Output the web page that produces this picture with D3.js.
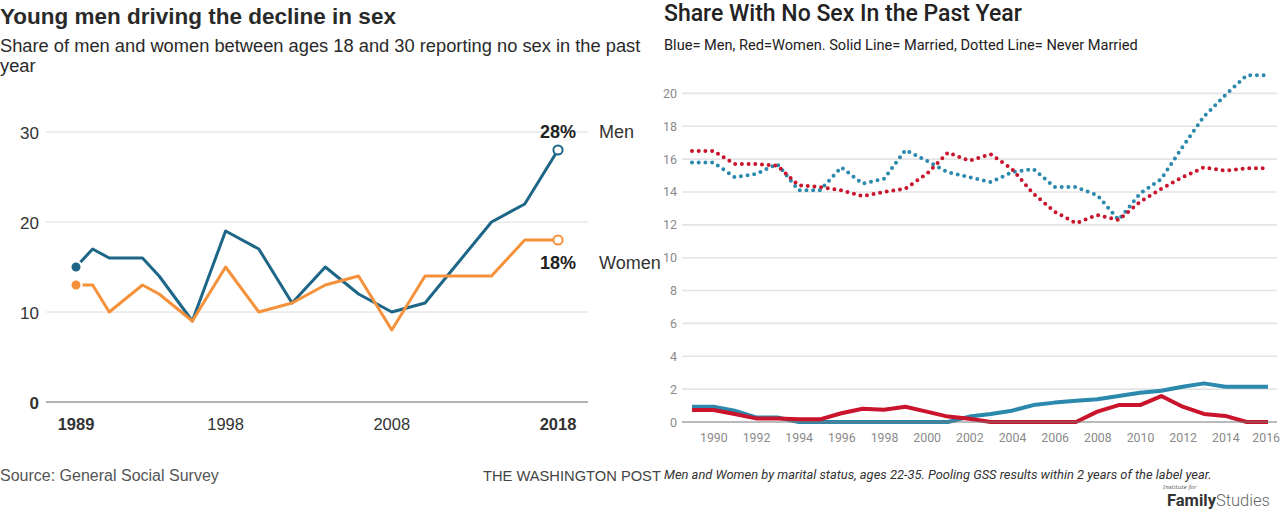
<!DOCTYPE html>
<html>
<head>
<meta charset="utf-8">
<script src="https://cdn.jsdelivr.net/npm/d3@7"></script>
<style>
  html, body { margin: 0; padding: 0; background: #fff; }
  svg { display: block; }
  .wp { font-family: 'Liberation Sans', Arial, sans-serif; }
  .ifs { font-family: Roboto, sans-serif; }
</style>
</head>
<body>
<div id="chart"></div>
<script>
// left chart: Washington Post, ages 18-30
const wpYears = [1989, 1990, 1991, 1993, 1994, 1996, 1998, 2000, 2002, 2004, 2006, 2008, 2010, 2012, 2014, 2016, 2018]
const wpMen = [15, 17, 16, 16, 14, 9, 19, 17, 11, 15, 12, 10, 11, 15.5, 20, 22, 28]
const wpWomen = [13, 13, 10, 13, 12, 9, 15, 10, 11, 13, 14, 8, 14, 14, 14, 18, 18]
const wpYTicks = [0, 10, 20, 30]
const wpXTicks = [1989, 1998, 2008, 2018]

// right chart: Institute for Family Studies, ages 22-35
const ifsYears = d3.range(1989, 2017)
const menNever = [15.8, 15.8, 14.9, 15.1, 15.7, 14.1, 14.1, 15.5, 14.5, 14.8, 16.55, 15.9, 15.2, 14.9,
  14.6, 15.2, 15.4, 14.3, 14.3, 13.8, 12.3, 13.9, 14.8, 16.75, 18.6, 19.9, 21.1, 21.1]
const womenNever = [16.5, 16.5, 15.7, 15.7, 15.6, 14.4, 14.3, 14.1, 13.75, 14.0, 14.2, 15.1, 16.4, 15.9,
  16.3, 15.4, 13.9, 12.8, 12.1, 12.6, 12.3, 13.4, 14.2, 14.9, 15.5, 15.3, 15.45, 15.45]
const menMarried = [0.93, 0.93, 0.69, 0.28, 0.28, 0, 0, 0, 0, 0, 0, 0, 0, 0.33,
  0.49, 0.69, 1.03, 1.18, 1.3, 1.38, 1.58, 1.78, 1.9, 2.15, 2.35, 2.15, 2.15, 2.15]
const womenMarried = [0.73, 0.73, 0.49, 0.22, 0.22, 0.16, 0.16, 0.53, 0.81, 0.75, 0.93, 0.63, 0.33, 0.2,
  0, 0, 0, 0, 0, 0.63, 1.03, 1.03, 1.58, 0.93, 0.49, 0.37, 0, 0]
const ifsYTicks = d3.range(0, 21, 2)
const ifsXTicks = d3.range(1990, 2017, 2)

const width = 1280
const height = 511
const menColor = '#1d6688'
const womenColor = '#f5913a'
const blue = '#2b89ae'
const red = '#c9142c'

const svg = d3.select('#chart').append('svg')
  .attr('width', width)
  .attr('height', height)

// ---------- left ----------
const left = svg.append('g').attr('class', 'wp')

left.append('text')
  .attr('x', 0).attr('y', 24)
  .attr('font-size', 22.5).attr('font-weight', 'bold').attr('fill', '#2a2a2a')
  .text('Young men driving the decline in sex')
left.append('text')
  .attr('x', 0).attr('y', 52)
  .attr('font-size', 18.3).attr('fill', '#2a2a2a')
  .text('Share of men and women between ages 18 and 30 reporting no sex in the past')
left.append('text')
  .attr('x', 0).attr('y', 72)
  .attr('font-size', 18.3).attr('fill', '#2a2a2a')
  .text('year')

const x1 = d3.scaleLinear().domain([1989, 2018]).range([76, 558])
const y1 = d3.scaleLinear().domain([0, 30]).range([402, 132])

left.selectAll('line.grid')
  .data(wpYTicks)
  .join('line')
  .attr('class', 'grid')
  .attr('x1', 46).attr('x2', 588)
  .attr('y1', d => y1(d)).attr('y2', d => y1(d))
  .attr('stroke', d => d === 0 ? '#b3b3b3' : '#dcdcdc')
  .attr('stroke-width', d => d === 0 ? 2 : 1)

left.selectAll('text.ytick')
  .data(wpYTicks)
  .join('text')
  .attr('class', 'ytick')
  .attr('x', 39).attr('y', d => y1(d) + 7)
  .attr('text-anchor', 'end')
  .attr('font-size', 17).attr('fill', '#333')
  .attr('font-weight', d => d === 0 ? 'bold' : 'normal')
  .text(d => d)

left.selectAll('text.xtick')
  .data(wpXTicks)
  .join('text')
  .attr('class', 'xtick')
  .attr('x', d => x1(d)).attr('y', 430)
  .attr('text-anchor', 'middle')
  .attr('font-size', 16.5).attr('fill', '#333')
  .attr('font-weight', (d, i) => (i === 0 || i === wpXTicks.length - 1) ? 'bold' : 'normal')
  .text(d => d)

const wpLine = d3.line().x(d => x1(d[0])).y(d => y1(d[1]))
const wpSeries = [
  { name: 'Men', values: wpMen, color: menColor },
  { name: 'Women', values: wpWomen, color: womenColor },
]

wpSeries.forEach(s => {
  const pts = wpYears.map((yr, i) => [yr, s.values[i]])
  left.append('path')
    .attr('d', wpLine(pts))
    .attr('fill', 'none')
    .attr('stroke', s.color)
    .attr('stroke-width', 3)
    .attr('stroke-linejoin', 'round')
  left.append('circle')
    .attr('cx', x1(pts[0][0])).attr('cy', y1(pts[0][1]))
    .attr('r', 5.6)
    .attr('fill', s.color)
    .attr('stroke', '#fff').attr('stroke-width', 2.2)
  const last = pts[pts.length - 1]
  left.append('circle')
    .attr('cx', x1(last[0])).attr('cy', y1(last[1]))
    .attr('r', 4.6)
    .attr('fill', '#fff')
    .attr('stroke', s.color).attr('stroke-width', 2)
})

const lastMen = wpMen[wpMen.length - 1]
const lastWomen = wpWomen[wpWomen.length - 1]
left.append('text')
  .attr('x', x1(2018)).attr('y', y1(lastMen) - 12.5)
  .attr('text-anchor', 'middle')
  .attr('font-size', 18).attr('font-weight', 'bold').attr('fill', '#222')
  .text(lastMen + '%')
left.append('text')
  .attr('x', 599).attr('y', y1(lastMen) - 12.5)
  .attr('font-size', 18).attr('fill', '#333')
  .text('Men')
left.append('text')
  .attr('x', x1(2018)).attr('y', y1(lastWomen) + 28.5)
  .attr('text-anchor', 'middle')
  .attr('font-size', 18).attr('font-weight', 'bold').attr('fill', '#222')
  .text(lastWomen + '%')
left.append('text')
  .attr('x', 599).attr('y', y1(lastWomen) + 28.5)
  .attr('font-size', 18).attr('fill', '#333')
  .text('Women')

left.append('text')
  .attr('x', 0).attr('y', 481)
  .attr('font-size', 16).attr('fill', '#555')
  .text('Source: General Social Survey')
left.append('text')
  .attr('x', 483).attr('y', 481)
  .attr('font-size', 14.7).attr('fill', '#444')
  .text('THE WASHINGTON POST')

// ---------- right ----------
const right = svg.append('g').attr('class', 'ifs')

right.append('text')
  .attr('x', 664).attr('y', 21)
  .attr('font-size', 23).attr('font-weight', 500).attr('fill', '#222')
  .text('Share With No Sex In the Past Year')
right.append('text')
  .attr('x', 664).attr('y', 50)
  .attr('font-size', 14.6).attr('fill', '#222')
  .text('Blue= Men, Red=Women. Solid Line= Married, Dotted Line= Never Married')

const x2 = d3.scaleLinear().domain([1989, 2016]).range([692, 1268])
const y2 = d3.scaleLinear().domain([0, 20]).range([422, 93.4])

right.selectAll('line.grid')
  .data(ifsYTicks.filter(d => d > 0))
  .join('line')
  .attr('class', 'grid')
  .attr('x1', 682).attr('x2', 1277)
  .attr('y1', d => y2(d)).attr('y2', d => y2(d))
  .attr('stroke', '#e4e4e4')
  .attr('stroke-width', 1.6)

right.selectAll('text.ytick')
  .data(ifsYTicks)
  .join('text')
  .attr('class', 'ytick')
  .attr('x', 677).attr('y', d => y2(d) + 4.5)
  .attr('text-anchor', 'end')
  .attr('font-size', 12.5).attr('fill', '#8a8a8a')
  .text(d => d)

const xAxis = d3.axisBottom(x2)
  .tickValues(ifsXTicks)
  .tickFormat(d3.format('d'))
  .tickSize(0)
  .tickPadding(11)
right.append('g')
  .attr('transform', `translate(0,${y2(0)})`)
  .call(xAxis)
  .call(g => g.select('.domain').remove())
  .call(g => g.selectAll('text')
    .attr('font-family', 'Roboto, sans-serif')
    .attr('font-size', 12.3)
    .attr('fill', '#8a8a8a'))
  // keep the last year label inside the frame
  .call(g => g.selectAll('.tick').filter(d => d === 2016).select('text')
    .attr('text-anchor', 'end').attr('dx', 11.5))

const ifsLine = d3.line().x((d, i) => x2(ifsYears[i])).y(d => y2(d))

const dotted = [
  { values: menNever, color: blue },
  { values: womenNever, color: red },
]
dotted.forEach(s => {
  right.append('path')
    .attr('d', ifsLine(s.values))
    .attr('fill', 'none')
    .attr('stroke', s.color)
    .attr('stroke-width', 4)
    .attr('stroke-linecap', 'round')
    .attr('stroke-dasharray', '0 6.7')
})

const solid = [
  { values: menMarried, color: blue },
  { values: womenMarried, color: red },
]
solid.forEach(s => {
  right.append('path')
    .attr('d', ifsLine(s.values))
    .attr('fill', 'none')
    .attr('stroke', s.color)
    .attr('stroke-width', 4)
    .attr('stroke-linejoin', 'round')
})

// zero line drawn above the married lines
right.append('line')
  .attr('x1', 682).attr('x2', 1277)
  .attr('y1', y2(0)).attr('y2', y2(0))
  .attr('stroke', '#777').attr('stroke-width', 1.2)

right.append('text')
  .attr('x', 664).attr('y', 479)
  .attr('font-size', 12.9).attr('font-style', 'italic').attr('fill', '#333')
  .text('Men and Women by marital status, ages 22-35. Pooling GSS results within 2 years of the label year.')

right.append('text')
  .attr('x', 1163).attr('y', 489)
  .attr('font-family', "'DejaVu Serif', serif")
  .attr('font-size', 5.5).attr('font-style', 'italic').attr('fill', '#555')
  .text('Institute for')
const logo = right.append('text')
  .attr('x', 1167).attr('y', 506)
  .attr('font-size', 16.5).attr('fill', '#333')
logo.append('tspan').attr('font-weight', 'bold').text('Family')
logo.append('tspan').attr('font-weight', 300).attr('fill', '#666').text('Studies')
</script>
</body>
</html>
